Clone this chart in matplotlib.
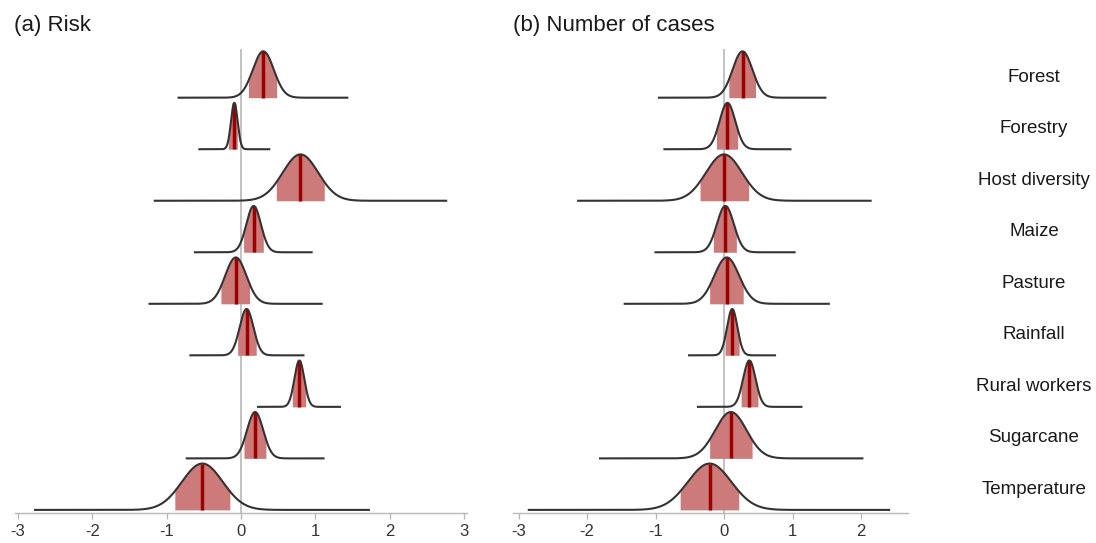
import numpy as np
import matplotlib
matplotlib.use('Agg')
import matplotlib.pyplot as plt
from matplotlib.transforms import blended_transform_factory

plt.rcParams['font.family'] = ['Liberation Sans', 'DejaVu Sans']

# covariates, top row first
labels = ['Forest', 'Forestry', 'Host diversity', 'Maize', 'Pasture',
          'Rainfall', 'Rural workers', 'Sugarcane', 'Temperature']

# (a) Risk: median, inner interval, full range of the posterior
risk_med = [0.30, -0.09, 0.80, 0.17, -0.07, 0.075, 0.785, 0.19, -0.52]
risk_lo = [0.10, -0.17, 0.475, 0.035, -0.27, -0.045, 0.69, 0.04, -0.89]
risk_hi = [0.48, -0.05, 1.12, 0.30, 0.115, 0.205, 0.87, 0.335, -0.15]
risk_min = [-0.84, -0.56, -1.16, -0.62, -1.23, -0.68, 0.23, -0.73, -2.77]
risk_max = [1.43, 0.38, 2.76, 0.95, 1.085, 0.84, 1.33, 1.11, 1.72]

# (b) Number of cases
cases_med = [0.27, 0.05, 0.00, 0.02, 0.04, 0.12, 0.37, 0.10, -0.21]
cases_lo = [0.07, -0.11, -0.35, -0.155, -0.21, 0.015, 0.25, -0.21, -0.64]
cases_hi = [0.46, 0.20, 0.36, 0.18, 0.28, 0.22, 0.495, 0.41, 0.215]
cases_min = [-0.95, -0.87, -2.13, -1.00, -1.45, -0.51, -0.38, -1.81, -2.85]
cases_max = [1.48, 0.97, 2.14, 1.03, 1.53, 0.745, 1.13, 2.02, 2.41]

ticks = [-3, -2, -1, 0, 1, 2, 3]

fill_col = '#cd7a7a'
med_col = '#9b0000'
curve_col = '#333333'
grey = '#b8b8b8'
peak = 0.9
z = 1.35


def draw_panel(ax, med, lo, hi, xmin, xmax, xlim):
    n = len(med)
    ax.axvline(0, color=grey, lw=1.2, zorder=1)
    for i in range(n):
        base = n - 1 - i
        sd = (hi[i] - lo[i]) / (2 * z)
        x = np.linspace(xmin[i], xmax[i], 600)
        dens = lambda v: base + peak * np.exp(-0.5 * ((v - med[i]) / sd) ** 2)
        xi = np.linspace(lo[i], hi[i], 200)
        ax.fill_between(xi, base, dens(xi), color=fill_col, lw=0, zorder=2)
        ax.plot([med[i], med[i]], [base, dens(med[i])], color=med_col,
                lw=2.5, solid_capstyle='butt', zorder=3)
        ax.plot(x, dens(x), color=curve_col, lw=1.5, zorder=4)
    ax.set_xlim(*xlim)
    ax.set_ylim(-0.06, n - 1 + 0.945)
    shown = [t for t in ticks if xlim[0] <= t <= xlim[1]]
    ax.set_xticks(shown)
    ax.set_xticklabels([str(t) for t in shown])
    ax.set_yticks([])
    for s in ['top', 'right', 'left']:
        ax.spines[s].set_visible(False)
    ax.spines['bottom'].set_color(grey)
    ax.spines['bottom'].set_linewidth(1.0)
    ax.tick_params(axis='x', colors=grey, length=4, width=1.0,
                   labelcolor='#333333', labelsize=12, pad=4)


fig = plt.figure(figsize=(10.96, 5.43), dpi=100)
H = 543
W = 1096
ax1 = fig.add_axes([15 / W, 1 - 513 / H, 452 / W, 464 / H])
ax2 = fig.add_axes([512.7 / W, 1 - 513 / H, 395.3 / W, 464 / H])

draw_panel(ax1, risk_med, risk_lo, risk_hi, risk_min, risk_max, (-3.04, 3.04))
draw_panel(ax2, cases_med, cases_lo, cases_hi, cases_min, cases_max, (-3.085, 2.686))

trans = blended_transform_factory(fig.transFigure, ax2.transData)
n = len(labels)
for i, lab in enumerate(labels):
    ax2.text(1034 / W, n - 1 - i + 0.31, lab, transform=trans, ha='center',
             va='baseline', fontsize=13.5, color='#1a1a1a', clip_on=False)

fig.text(14 / W, 1 - 30.5 / H, '(a) Risk', fontsize=16, va='baseline', color='#1a1a1a')
fig.text(513 / W, 1 - 30.5 / H, '(b) Number of cases', fontsize=16, va='baseline', color='#1a1a1a')

fig.savefig('out.png', dpi=100)
